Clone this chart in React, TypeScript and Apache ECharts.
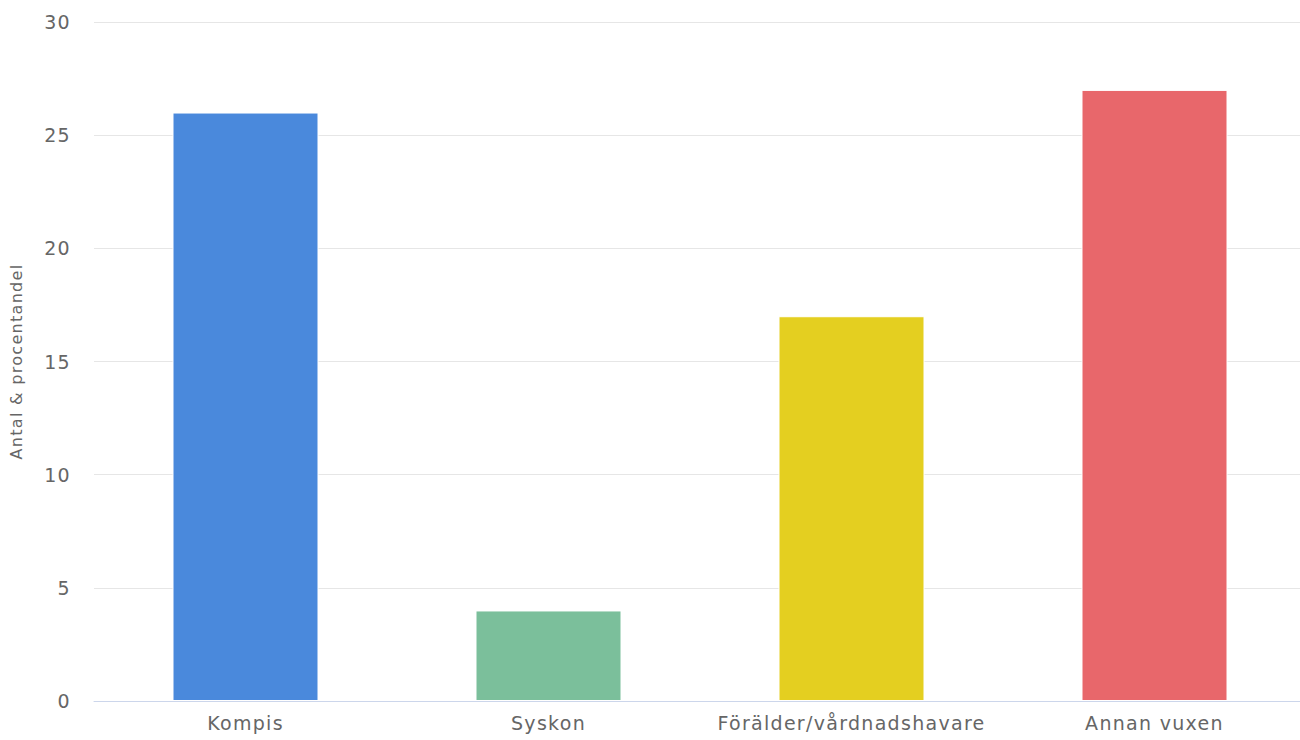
import React, { useEffect, useRef } from "react";
import * as echarts from "echarts";

const categories = ["Kompis", "Syskon", "Förälder/vårdnadshavare", "Annan vuxen"];
const values = [26, 4, 17, 27];
const barColors = ["#4a89dc", "#7bbf9b", "#e4cf20", "#e8676b"];
const yTicks = { min: 0, max: 30, interval: 5 };
const yAxisName = "Antal & procentandel";

export default function App() {
  const ref = useRef<HTMLDivElement>(null);
  useEffect(() => {
    if (!ref.current) return;
    const chart = echarts.init(ref.current, undefined, { renderer: "svg" });
    const font = "'DejaVu Sans', Verdana, sans-serif";
    chart.setOption({
      animation: false,
      grid: { left: 94, width: 1212, top: 22, bottom: 39, outerBoundsMode: "none", containLabel: false },
      xAxis: {
        type: "category",
        data: categories,
        axisLine: { lineStyle: { color: "#ccd6eb", width: 1 } },
        axisTick: { show: false },
        axisLabel: { interval: 0, color: "#666666", fontSize: 19, fontFamily: font, margin: 12 },
      },
      yAxis: {
        type: "value",
        min: yTicks.min,
        max: yTicks.max,
        interval: yTicks.interval,
        name: yAxisName,
        nameLocation: "middle",
        nameGap: 70,
        nameTextStyle: { color: "#666666", fontSize: 16, fontFamily: font },
        axisLine: { show: false },
        axisTick: { show: false },
        axisLabel: { color: "#666666", fontSize: 19, fontFamily: font, margin: 23 },
        splitLine: { lineStyle: { color: "#e6e6e6", width: 1 } },
      },
      series: [
        {
          type: "bar",
          barWidth: 146,
          data: values.map((v, i) => ({
            value: v,
            itemStyle: { color: barColors[i], borderColor: "#ffffff", borderWidth: 1 },
          })),
        },
      ],
    });
    return () => chart.dispose();
  }, []);
  return (
    <div
      ref={ref}
      style={{ position: "fixed", left: 0, top: 0, width: 1300, height: 740, background: "#fff", letterSpacing: "1.3px" }}
    />
  );
}
